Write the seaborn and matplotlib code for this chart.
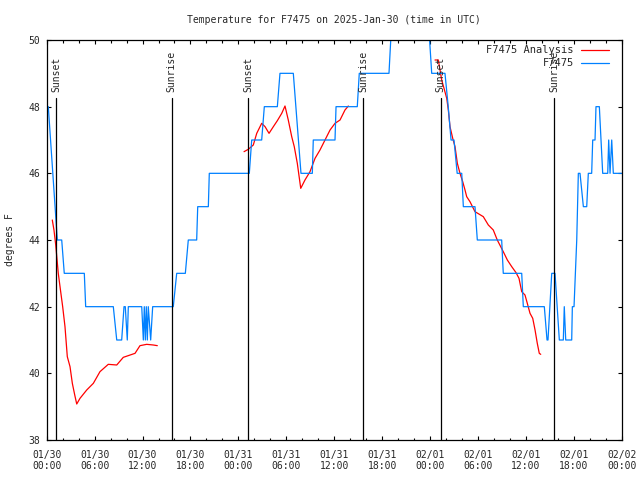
import matplotlib
matplotlib.use('Agg')
import matplotlib.pyplot as plt
import matplotlib.dates as mdates
import pandas as pd
import seaborn as sns

START = pd.Timestamp('2025-01-30 00:00')
STATION = 'F7475'

# observed temperature (hours after start, deg F)
OBS_HOURS = [0.0, 0.2, 1.33, 1.88, 2.2, 4.71, 4.88, 8.34, 8.77, 9.39, 9.68, 9.84,
             10.09, 10.22, 11.9, 12.1, 12.22, 12.35, 12.47, 12.6, 12.72, 13.02,
             13.27, 15.85, 16.28, 17.36, 17.73, 18.78, 18.91, 20.24, 20.36, 25.37,
             25.67, 26.92, 27.25, 28.88, 29.21, 30.88, 31.84, 33.26, 33.38, 36.1,
             36.23, 38.89, 39.14, 42.86, 43.3, 47.68, 48.21, 49.87, 50.28, 50.63,
             51.0, 51.4, 51.97, 52.17, 53.63, 53.92, 56.97, 57.17, 59.48, 59.68,
             62.31, 62.65, 62.77, 63.24, 63.65, 64.19, 64.69, 64.81, 64.99, 65.74,
             65.82, 66.03, 66.37, 66.57, 66.78, 67.2, 67.62, 67.82, 68.24, 68.37,
             68.66, 68.78, 69.2, 69.41, 69.62, 70.25, 70.37, 70.54, 70.75, 70.95,
             72.0]
OBS_TEMPS = [48, 48, 44, 44, 43, 43, 42, 42, 41, 41, 42, 42,
             41, 42, 42, 41, 42, 41, 42, 41, 42, 41,
             42, 42, 43, 43, 44, 44, 45, 45, 46, 46,
             47, 47, 48, 48, 49, 49, 46, 46, 47, 47,
             48, 48, 49, 49, 51, 51, 49, 49, 48, 47,
             47, 46, 46, 45, 45, 44, 44, 43, 43, 42,
             42, 41, 41, 43, 43, 41, 41, 42, 41, 41,
             42, 42, 44, 46, 46, 45, 45, 46, 46, 47,
             47, 48, 48, 47, 46, 46, 47, 46, 47, 46,
             46]

# analysis, in three separate runs
ANA_HOURS_1 = [0.70, 0.91, 1.13, 1.45, 1.75, 2.0, 2.29, 2.58, 2.92, 3.21, 3.51, 3.76,
               4.17, 5.01, 5.84, 6.67, 7.71, 8.77, 9.59, 11.06, 11.68, 12.52, 13.35, 13.85]
ANA_TEMPS_1 = [44.6, 44.3, 43.85, 43.0, 42.45, 42.0, 41.4, 40.5, 40.2, 39.7, 39.35, 39.08,
               39.25, 39.5, 39.7, 40.05, 40.27, 40.25, 40.48, 40.6, 40.83, 40.87, 40.85, 40.83]
ANA_HOURS_2 = [24.71, 25.24, 25.87, 26.3, 26.92, 27.34, 27.84, 28.38, 28.88, 29.43, 29.84,
               30.25, 30.68, 31.0, 31.38, 31.81, 32.34, 32.97, 33.6, 34.22, 34.85, 35.48,
               36.1, 36.73, 37.35, 37.77]
ANA_TEMPS_2 = [46.65, 46.72, 46.85, 47.2, 47.5, 47.4, 47.2, 47.4, 47.58, 47.8, 48.02,
               47.6, 47.1, 46.8, 46.3, 45.55, 45.8, 46.05, 46.45, 46.7, 47.0, 47.3,
               47.5, 47.6, 47.9, 48.02]
ANA_HOURS_3 = [48.62, 49.04, 49.25, 49.46, 49.75, 50.09, 50.29, 50.5, 50.84, 51.13, 51.42,
               51.75, 52.09, 52.38, 52.59, 53.0, 53.63, 54.67, 55.3, 55.92, 56.42, 57.17,
               57.68, 58.23, 58.77, 59.14, 59.48, 59.89, 60.18, 60.52, 60.86, 61.15,
               61.43, 61.68, 61.86]
ANA_TEMPS_3 = [49.4, 49.4, 49.1, 48.8, 48.55, 48.25, 47.9, 47.4, 47.05, 46.8, 46.3,
               46.0, 45.75, 45.5, 45.3, 45.15, 44.85, 44.7, 44.45, 44.3, 44.0, 43.65,
               43.4, 43.2, 43.02, 42.85, 42.45, 42.35, 42.1, 41.8, 41.65, 41.3,
               40.9, 40.6, 40.57]

SUN_HOURS = [1.17, 15.65, 25.25, 39.65, 49.33, 63.57]
SUN_LABELS = ['Sunset', 'Sunrise', 'Sunset', 'Sunrise', 'Sunset', 'Sunrise']

RED = '#ff0000'
BLUE = '#0080ff'


def to_time(hours):
    return START + pd.to_timedelta(hours, unit='h')


def build_frames():
    obs = pd.DataFrame({'time': to_time(OBS_HOURS), 'temp': OBS_TEMPS})
    pieces = []
    for i, (h, t) in enumerate([(ANA_HOURS_1, ANA_TEMPS_1),
                                (ANA_HOURS_2, ANA_TEMPS_2),
                                (ANA_HOURS_3, ANA_TEMPS_3)]):
        pieces.append(pd.DataFrame({'time': to_time(h), 'temp': t, 'run': i}))
    ana = pd.concat(pieces, ignore_index=True)
    return obs, ana


def plot_data(obs, ana):
    sns.set_style('ticks')
    plt.rcParams['font.family'] = ['DejaVu Sans Mono']
    plt.rcParams['font.size'] = 7

    fig = plt.figure(figsize=(6.4, 4.8), dpi=100)
    ax = fig.add_axes([46.7 / 640, 40 / 480, 575 / 640, 400 / 480])

    sns.lineplot(data=ana, x='time', y='temp', units='run', estimator=None,
                 color=RED, linewidth=0.9, ax=ax, legend=False)
    sns.lineplot(data=obs, x='time', y='temp', sort=False, estimator=None,
                 color=BLUE, linewidth=0.9, ax=ax, legend=False)

    for h, lab in zip(SUN_HOURS, SUN_LABELS):
        t = to_time(h)
        ax.axvline(t, ymin=0, ymax=0.855, color='black', linewidth=0.9)
        ax.text(t, 0.87, lab, transform=ax.get_xaxis_transform(), rotation=90,
                ha='center', va='bottom', fontsize=7)

    ax.set_xlim(START, START + pd.Timedelta(hours=72))
    ax.set_ylim(38, 50)
    ax.set_yticks(range(38, 51, 2))
    ax.xaxis.set_major_locator(mdates.HourLocator(byhour=[0, 6, 12, 18]))
    ax.xaxis.set_minor_locator(mdates.HourLocator(byhour=range(0, 24, 2)))
    ax.xaxis.set_major_formatter(mdates.DateFormatter('%m/%d\n%H:%M'))
    ax.tick_params(which='both', direction='in', top=True, right=True,
                   labelsize=7, width=0.8, color='black')
    ax.tick_params(which='major', length=3.2)
    ax.tick_params(which='minor', length=1.8)
    ax.tick_params(axis='x', pad=7)
    ax.tick_params(axis='y', pad=5)
    for s in ax.spines.values():
        s.set_linewidth(0.9)
        s.set_color('black')
    ax.set_xlabel('')
    ax.set_ylabel('')

    # gnuplot-style key: label first, then the line sample
    for yk, lab, col in [(0.975, f'{STATION} Analysis', RED), (0.943, STATION, BLUE)]:
        ax.text(0.917, yk, lab, transform=ax.transAxes, ha='right', va='center', fontsize=7.5)
        ax.plot([0.930, 0.978], [yk, yk], transform=ax.transAxes, color=col, linewidth=0.9)

    fig.text(0.522, 0.958, f'Temperature for {STATION} on 2025-Jan-30 (time in UTC)',
             ha='center', va='center', fontsize=7)
    fig.text(0.016, 0.5, 'degrees F', rotation=90, ha='center', va='center', fontsize=7)

    fig.savefig('out.png', dpi=100)


def main():
    obs, ana = build_frames()
    plot_data(obs, ana)


if __name__ == "__main__":
    main()
